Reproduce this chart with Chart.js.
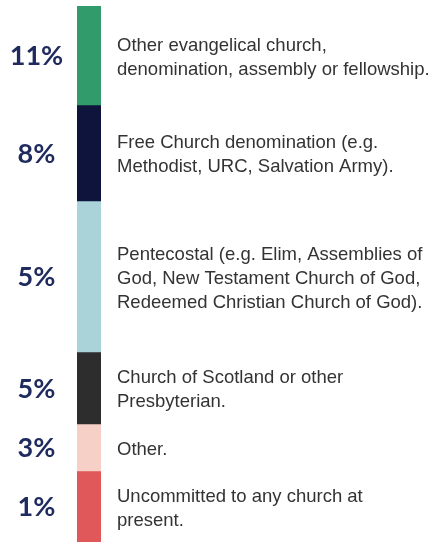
<!DOCTYPE html>
<html>
<head>
<meta charset="utf-8">
<script src="https://cdn.jsdelivr.net/npm/chart.js@4.4.1/dist/chart.umd.min.js"></script>
<style>
  html, body { margin: 0; padding: 0; background: #ffffff; }
  #wrap { position: relative; width: 441px; height: 542px; }
</style>
</head>
<body>
<div id="wrap"><canvas id="c"></canvas></div>
<script>
// Categories (top to bottom)
const categories = [
  "Other evangelical church, denomination, assembly or fellowship.",
  "Free Church denomination (e.g. Methodist, URC, Salvation Army).",
  "Pentecostal (e.g. Elim, Assemblies of God, New Testament Church of God, Redeemed Christian Church of God).",
  "Church of Scotland or other Presbyterian.",
  "Other.",
  "Uncommitted to any church at present."
];
// Wrapped description lines as shown
const descriptionLines = [
  ["Other evangelical church,", "denomination, assembly or fellowship."],
  ["Free Church denomination (e.g.", "Methodist, URC, Salvation Army)."],
  ["Pentecostal (e.g. Elim, Assemblies of", "God, New Testament Church of God,", "Redeemed Christian Church of God)."],
  ["Church of Scotland or other", "Presbyterian."],
  ["Other."],
  ["Uncommitted to any church at", "present."]
];
// Percentage labels shown next to each segment
const percentLabels = ["11%", "8%", "5%", "5%", "3%", "1%"];
// Segment sizes as drawn in the infographic (relative units)
const segmentSizes = [99, 96, 151, 72, 47, 71];
// Segment colours
const segmentColors = ["#329b6b", "#0e143b", "#a9d2d9", "#2d2d2d", "#f6d0c7", "#e0585a"];

const total = segmentSizes.reduce((a, b) => a + b, 0);

const datasets = segmentSizes.map((v, i) => ({
  label: categories[i],
  data: [v],
  backgroundColor: segmentColors[i],
  borderWidth: 0,
  barPercentage: 1,
  categoryPercentage: 1
}));

const labelPlugin = {
  id: 'sideLabels',
  afterDatasetsDraw(chart) {
    const ctx = chart.ctx;
    ctx.save();
    chart.data.datasets.forEach((ds, i) => {
      const meta = chart.getDatasetMeta(i);
      const el = meta.data[0];
      const cy = (el.y + el.base) / 2;
      // percentage
      ctx.fillStyle = '#1f2a5e';
      ctx.font = '700 27px Lato, "Open Sans", sans-serif';
      ctx.textAlign = 'center';
      ctx.textBaseline = 'middle';
      ctx.fillText(percentLabels[i], 36.5, cy + 1);
      // description
      const lines = descriptionLines[i];
      const lh = 24;
      ctx.fillStyle = '#333333';
      ctx.font = '18.5px "Liberation Sans", Arial, sans-serif';
      ctx.textAlign = 'left';
      ctx.textBaseline = 'middle';
      const start = cy - (lines.length - 1) * lh / 2 + 2;
      lines.forEach((ln, k) => ctx.fillText(ln, 117, start + k * lh));
    });
    ctx.restore();
  }
};

new Chart(document.getElementById('c'), {
  type: 'bar',
  data: { labels: [''], datasets },
  options: {
    responsive: true,
    maintainAspectRatio: false,
    animation: false,
    layout: { padding: { left: 77, right: 340, top: 6, bottom: 0 } },
    plugins: { legend: { display: false }, tooltip: { enabled: false } },
    scales: {
      x: { stacked: true, display: false },
      y: { stacked: true, display: false, reverse: true, min: 0, max: total }
    }
  },
  plugins: [labelPlugin]
});
</script>
</body>
</html>
